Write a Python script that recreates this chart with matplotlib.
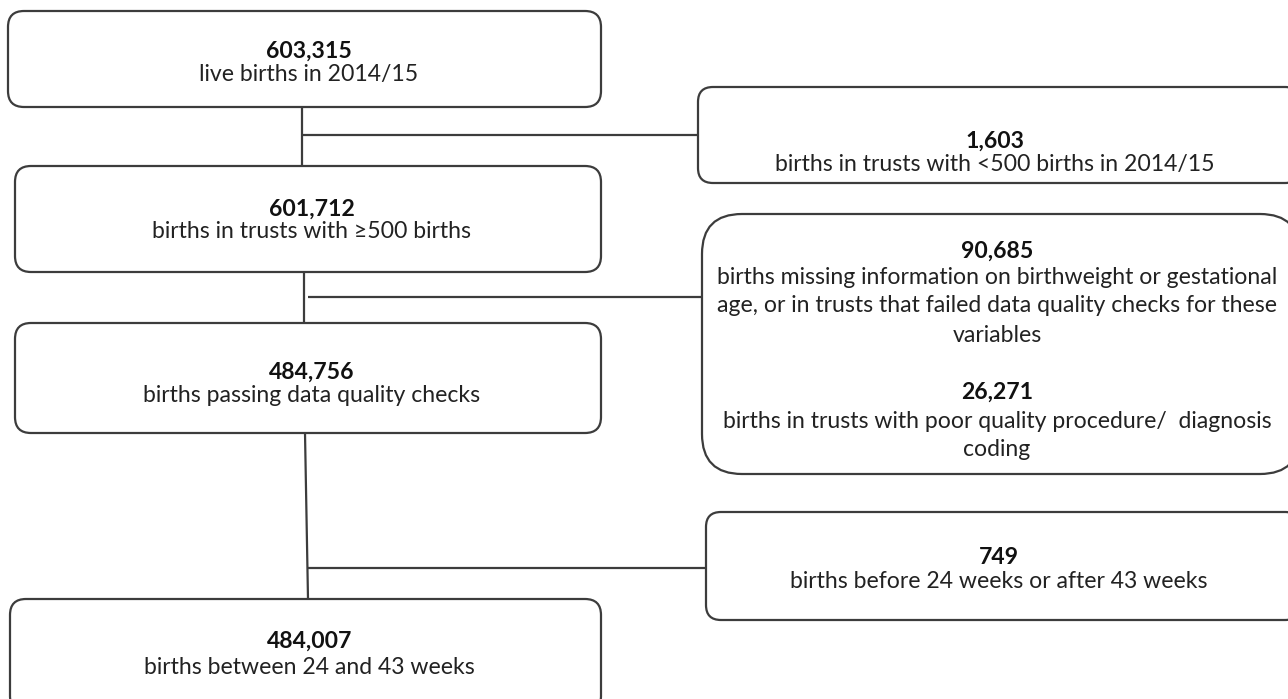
import matplotlib
matplotlib.use("Agg")
import matplotlib.pyplot as plt
from matplotlib.patches import FancyBboxPatch

plt.rcParams['font.family'] = ['Lato', 'DejaVu Sans']

# Main flow boxes
main_counts = ["603,315", "601,712", "484,756", "484,007"]
main_labels = ["live births in 2014/15",
               "births in trusts with \u2265500 births",
               "births passing data quality checks",
               "births between 24 and 43 weeks"]

# Exclusion boxes
excl_counts = [["1,603"], ["90,685", "26,271"], ["749"]]
excl_labels = [[["births in trusts with <500 births in 2014/15"]],
               [["births missing information on birthweight or gestational",
                 "age, or in trusts that failed data quality checks for these",
                 "variables"],
                ["births in trusts with poor quality procedure/  diagnosis",
                 "coding"]],
               [["births before 24 weeks or after 43 weeks"]]]

# layout (pixel coordinates)
main_boxes = [(8, 11, 601, 107), (15, 166, 601, 272), (15, 323, 601, 433), (10, 599, 601, 712)]
excl_boxes = [(698, 87, 1300, 183), (702, 214, 1300, 474), (706, 512, 1300, 620)]
excl_radius = [15, 40, 15]
main_text_y = [(51, 75), (209, 232), (372, 395), (641, 667)]
excl_text_y = [[(141, [164])], [(251, [278, 306, 335]), (392, [422, 449])], [(558, [582])]]
connectors = [((302, 107), (302, 166), 135),
              ((304, 272), (304, 323), 297),
              ((305, 433), (308, 599), 568)]
branch_start = [302, 308, 308]

W, H = 1288, 699
fig = plt.figure(figsize=(W / 100, H / 100), dpi=100)
ax = fig.add_axes([0, 0, 1, 1])
ax.set_xlim(0, W)
ax.set_ylim(H, 0)
ax.axis('off')

lc = '#3c3c3c'
lw = 1.6
fs = 16.6

def rbox(x0, y0, x1, y1, r):
    p = FancyBboxPatch((x0 + r, y0 + r), (x1 - x0) - 2 * r, (y1 - y0) - 2 * r,
                       boxstyle=f"round,pad={r}", fc='white', ec=lc, lw=lw,
                       mutation_aspect=1, zorder=2)
    ax.add_patch(p)

for (x0, y0, x1, y1), cnt, lab, (ty1, ty2) in zip(main_boxes, main_counts, main_labels, main_text_y):
    rbox(x0, y0, x1, y1, 16)
    cx = (x0 + x1) / 2 + 4
    ax.text(cx, ty1, cnt, ha='center', va='center', fontsize=fs, fontweight='bold', color='#111111', zorder=3)
    ax.text(cx, ty2, lab, ha='center', va='center', fontsize=fs, color='#222222', zorder=3)

for (x0, y0, x1, y1), r, cnts, labs, tys in zip(excl_boxes, excl_radius, excl_counts, excl_labels, excl_text_y):
    rbox(x0, y0, x1, y1, r)
    cx = (x0 + 1288) / 2 + 2
    for cnt, lines, (cy, lys) in zip(cnts, labs, tys):
        ax.text(cx, cy, cnt, ha='center', va='center', fontsize=fs, fontweight='bold', color='#111111', zorder=3)
        for ln, ly in zip(lines, lys):
            ax.text(cx, ly, ln, ha='center', va='center', fontsize=fs, color='#222222', zorder=3)

for ((xa, ya), (xb, yb), by), bx, eb in zip(connectors, branch_start, excl_boxes):
    ax.plot([xa, xb], [ya, yb], color=lc, lw=lw, zorder=1, solid_capstyle='butt')
    ax.plot([bx, eb[0]], [by, by], color=lc, lw=lw, zorder=1, solid_capstyle='butt')

fig.savefig('out.png', dpi=100, facecolor='white')
